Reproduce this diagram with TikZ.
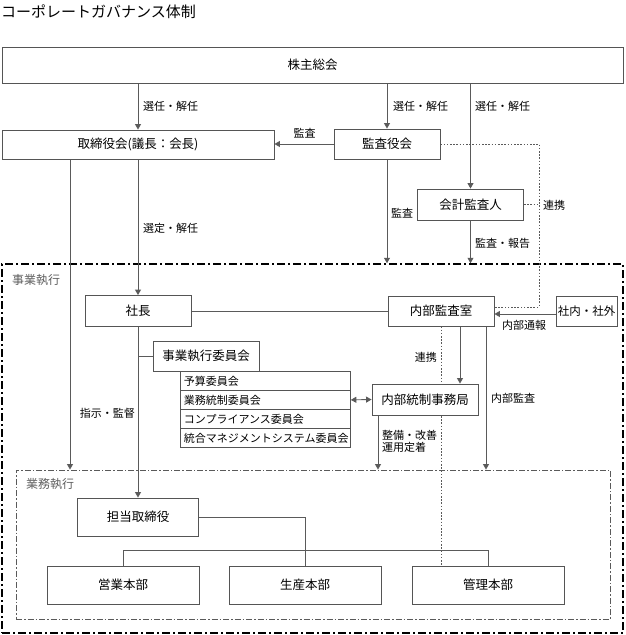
\documentclass[tikz,border=0pt]{standalone}
\usepackage{fontspec}
\setmainfont{Noto Sans CJK JP}
\usetikzlibrary{arrows.meta}
\pgfdeclarelayer{bg}
\pgfsetlayers{bg,main}
\definecolor{linec}{HTML}{5A5A5A}
\definecolor{boxc}{HTML}{555555}
\definecolor{txtc}{HTML}{000000}
\definecolor{grptxt}{HTML}{5E5E5E}
\tikzset{
  box/.style={draw=boxc, line width=0.9pt, fill=white, inner sep=0pt, font=\fontsize{12.5}{14}\selectfont, text=txtc},
  row/.style={draw=boxc, line width=0.8pt, fill=white, anchor=north west, minimum height=19pt, text width=163pt, inner xsep=3.5pt, inner ysep=0pt, align=left, font=\fontsize{11}{13}\selectfont, text=txtc},
  lbl/.style={inner sep=0pt, font=\fontsize{11}{13}\selectfont, text=txtc},
  conn/.style={draw=linec, line width=0.9pt},
  tip/.tip={Triangle[width=6pt,length=5.5pt]},
  arr/.style={conn, -tip},
  dotc/.style={draw=linec, line width=0.8pt, dash pattern=on 1.6pt off 1.6pt},
  grp/.style={inner sep=0pt, font=\fontsize{12}{14}\selectfont, text=grptxt},
  outerg/.style={draw=black, line width=1.5pt, dash pattern=on 8pt off 3pt on 2pt off 3pt, inner sep=0pt},
  innerg/.style={draw=linec, line width=0.9pt, dash pattern=on 6pt off 2pt on 1.5pt off 2pt, inner sep=0pt},
}
\begin{document}
\begin{tikzpicture}[x=1pt,y=-1pt]
\useasboundingbox (0,0) rectangle (625,635);

\node[anchor=west, inner sep=0pt, font=\fontsize{15}{17}\selectfont, text=txtc] (title) at (1,12) {コーポレートガバナンス体制};

% main boxes
\node[box, minimum width=621pt, minimum height=36pt] (soukai) at (312.5,65) {株主総会};
\node[box, minimum width=272pt, minimum height=29pt] (tori) at (138,144.5) {取締役会(議長：会長)};
\node[box, minimum width=106pt, minimum height=30pt] (kansa) at (387,144) {監査役会};
\node[box, minimum width=106pt, minimum height=31pt] (kaikei) at (470.5,204.5) {会計監査人};
\node[box, minimum width=106pt, minimum height=31pt] (shacho) at (138,311) {社長};
\node[box, minimum width=106pt, minimum height=30pt] (naibu) at (441,311) {内部監査室};
\node[box, minimum width=61pt, minimum height=30pt, font=\fontsize{11.5}{13}\selectfont] (shanai) at (586.5,311) {社内・社外};
\node[box, minimum width=106pt, minimum height=30pt] (iinkai) at (206,356) {事業執行委員会};
\node[row] (t1) at (180,371) {予算委員会};
\node[row] (t2) at (180,390) {業務統制委員会};
\node[row] (t3) at (180,409) {コンプライアンス委員会};
\node[row] (t4) at (180,428) {統合マネジメントシステム委員会};
\node[box, minimum width=106pt, minimum height=31pt] (tosei) at (425,399.5) {内部統制事務局};
\node[box, minimum width=121pt, minimum height=38pt] (tanto) at (138,517) {担当取締役};
\node[box, minimum width=152pt, minimum height=38pt] (eigyo) at (123,585) {営業本部};
\node[box, minimum width=152pt, minimum height=38pt] (seisan) at (305,585) {生産本部};
\node[box, minimum width=152pt, minimum height=38pt] (kanri) at (488,585) {管理本部};

% group labels
\node[grp, anchor=west] (g1lbl) at (12,280) {事業執行};
\node[grp, anchor=west] (g2lbl) at (26,484) {業務執行};

% edge labels
\node[lbl, anchor=west] (l1) at (143,106) {選任・解任};
\node[lbl, anchor=west] (l2) at (393,106) {選任・解任};
\node[lbl, anchor=west] (l3) at (475,106) {選任・解任};
\node[lbl] (l4) at (304.5,133) {監査};
\node[lbl, anchor=west] (l5) at (391,213) {監査};
\node[lbl, anchor=west] (l6) at (475,243) {監査・報告};
\node[lbl, anchor=west] (l7) at (543,205) {連携};
\node[lbl, anchor=west] (l8) at (143,228) {選定・解任};
\node[lbl, anchor=east] (l9) at (135,413) {指示・監督};
\node[lbl, anchor=west] (l10) at (502,325) {内部通報};
\node[lbl, anchor=east] (l11) at (437,357) {連携};
\node[lbl, anchor=west] (l12) at (491,398) {内部監査};
\node[lbl, anchor=north west, align=left, font=\fontsize{11}{12.5}\selectfont] (l13) at (382,430) {整備・改善\\運用定着};

\begin{pgfonlayer}{bg}
  \node[outerg, minimum width=621pt, minimum height=369pt] (jigyo) at (312.5,448.5) {};
  \node[innerg, minimum width=594pt, minimum height=149pt] (gyomu) at (313,544.5) {};

  % from shareholders meeting
  \draw[arr] (tori.north |- soukai.south) -- (tori.north);
  \draw[arr] (kansa.north |- soukai.south) -- (kansa.north);
  \draw[arr] (kaikei.north |- soukai.south) -- (kaikei.north);
  % audit
  \draw[arr] (kansa.west) -- (kansa.west -| tori.east);
  \draw[arr] (kansa.south) -- (kansa.south |- jigyo.north);
  \draw[arr] (kaikei.south) -- (kaikei.south |- jigyo.north);
  % cooperation dotted
  \coordinate (d1) at (539,144);
  \coordinate (d2) at (539,307);
  \draw[dotc] (kansa.east) -- (d1) -- (d2) -- (d2 -| naibu.east);
  \draw[dotc] (kaikei.east) -- (kaikei.east -| d1);
  \draw[dotc] (naibu.south) -- (naibu.south |- kanri.north);
  % board
  \coordinate (c70) at (70,159);
  \draw[arr] (c70) -- (c70 |- gyomu.north);
  \draw[arr] (tori.south) -- (shacho.north);
  \draw[arr] (shacho.south) -- (tanto.north);
  \draw[conn] (iinkai.west) -- (iinkai.west -| shacho.south);
  \draw[conn] (shacho.east) -- (naibu.west);
  % internal audit
  \path (shanai.west) ++(0,3) coordinate (w1);
  \draw[arr] (w1) -- (w1 -| naibu.east);
  \coordinate (n460) at (460,326);
  \draw[arr] (n460) -- (n460 |- tosei.north);
  \coordinate (n486) at (486,326);
  \draw[arr] (n486) -- (n486 |- gyomu.north);
  \draw[conn, tip-tip] (t2.east) -- (tosei.west);
  \coordinate (s378) at (378,415);
  \draw[arr] (s378) -- (s378 |- gyomu.north);
  % business execution
  \draw[conn] (tanto.east) -| (seisan.north);
  \draw[conn] (eigyo.north) -- ++(0,-15) -| (kanri.north);
\end{pgfonlayer}
\end{tikzpicture}
\end{document}
